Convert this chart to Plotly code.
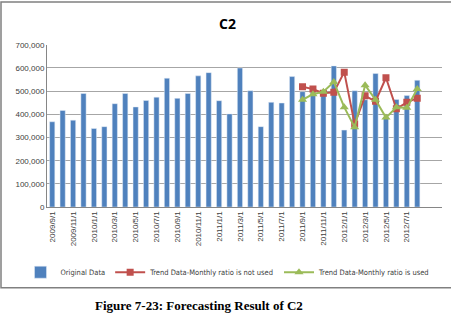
import plotly.graph_objects as go

months = []
y, m = 2009, 9
for _ in range(36):
    months.append(f"{y}/{m}/1")
    m += 1
    if m > 12:
        m = 1
        y += 1

original = [368000, 417000, 375000, 490000, 339000, 347000, 446000, 490000, 432000, 460000,
            474000, 556000, 469000, 490000, 566000, 580000, 459000, 402000, 600000, 502000,
            347000, 452000, 449000, 563000, 498000, 505000, 490000, 609000, 332000, 502000,
            463000, 576000, 388000, 464000, 481000, 547000]

fc_months = months[24:]
not_used = [519000, 509000, 491000, 495000, 582000, 358000, 480000, 456000, 558000, 424000, 452000, 470000]
used = [463000, 487000, 498000, 540000, 431000, 344000, 526000, 463000, 386000, 431000, 428000, 509000]

tick_labels = months[::2]

W, H = 451, 318
def px(x): return x / W
def py(yv): return (H - yv) / H

fig = go.Figure()
fig.add_trace(go.Bar(x=months, y=original, name="Original Data", marker_color="#4F81BD"))
fig.add_trace(go.Scatter(x=fc_months, y=not_used, name="Trend Data-Monthly ratio is not used",
                         mode="lines+markers", line=dict(color="#C0504D", width=2),
                         marker=dict(symbol="square", size=7, color="#C0504D")))
fig.add_trace(go.Scatter(x=fc_months, y=used, name="Trend Data-Monthly ratio is used",
                         mode="lines+markers", line=dict(color="#9BBB59", width=2),
                         marker=dict(symbol="triangle-up", size=8, color="#9BBB59")))

fig.update_layout(
    width=W, height=H,
    margin=dict(l=0, r=0, t=0, b=0),
    paper_bgcolor="white", plot_bgcolor="white",
    bargap=0.5,
    font=dict(family="Liberation Sans, Arial", color="#404040"),
    xaxis=dict(domain=[px(47), px(442)], type="category", categoryorder="array",
               categoryarray=months, tickvals=tick_labels, ticktext=tick_labels,
               tickangle=-90, tickfont=dict(size=8, color="#404040"),
               showgrid=False, showline=True, linecolor="#868686", ticks="",
               anchor="y"),
    yaxis=dict(domain=[py(209), py(42)], range=[0, 700000], tickvals=list(range(0, 700001, 100000)),
               tickformat=",", tickfont=dict(size=8, color="#404040"),
               showgrid=True, gridcolor="#A6A6A6", gridwidth=1, zeroline=False,
               showline=True, linecolor="#868686", ticks="", anchor="x"),
    showlegend=True,
    legend=dict(orientation="h", x=px(228), y=py(276), xanchor="center", yanchor="middle",
                font=dict(size=7.5, color="#404040", family="DejaVu Sans Condensed, Liberation Sans, sans-serif"),
                itemwidth=30, tracegroupgap=0,
                bgcolor="rgba(0,0,0,0)"),
    annotations=[
        dict(text="<b>C2</b>", x=px(227), y=py(20), xref="paper", yref="paper",
             showarrow=False, font=dict(size=14, color="#000000", family="Open Sans, Arial"),
             xanchor="center", yanchor="middle"),
        dict(text="<b>Figure 7-23: Forecasting Result of C2</b>", x=px(199), y=py(310),
             xref="paper", yref="paper", showarrow=False,
             font=dict(size=13, color="#000000", family="Liberation Serif, Times New Roman"),
             xanchor="center", yanchor="middle"),
    ],
    shapes=[
        dict(type="rect", xref="paper", yref="paper", x0=px(1), x1=px(452), y0=py(292), y1=py(-2),
             line=dict(color="#808080", width=1.5), fillcolor="rgba(0,0,0,0)", layer="below"),
    ],
)

fig.write_html("out.html")
